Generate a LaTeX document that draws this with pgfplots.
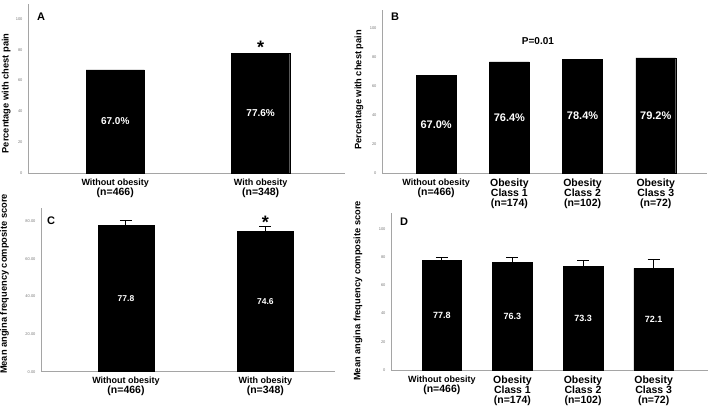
\documentclass[border=0pt]{standalone}
\usepackage{pgfplots}
\pgfplotsset{compat=1.18}
\usepackage{fontspec}
\setmainfont{Liberation Sans}
\definecolor{axgray}{RGB}{165,165,165}
\definecolor{tickgray}{RGB}{120,120,120}
\pgfplotsset{
  panel/.style={
    scale only axis,
    axis x line=bottom, axis y line=left,
    axis line style={axgray, line width=0.8pt, -},
    ymin=0,
    xtick=data,
    major tick length=0pt,
    /pgf/number format/assume math mode=true,
    yticklabel style={font=\fontsize{4}{5}\selectfont, text=tickgray, xshift=-2pt},
    xticklabel style={font=\bfseries\fontsize{10.5}{10.2}\selectfont, align=center, anchor=north, yshift=-2pt},
    ylabel style={font=\bfseries\fontsize{9.3}{11}\selectfont, anchor=center},
    ybar,
    clip=false,
  },
  errs/.style={error bars/.cd, y dir=plus, y explicit,
    error bar style={line width=1pt, black},
    error mark options={rotate=90, mark size=6pt, line width=1pt, black}},
}
\tikzset{
  lbl/.style={font=\bfseries\fontsize{11}{12}\selectfont, anchor=center},
  val/.style={font=\bfseries\fontsize{#1}{12}\selectfont, text=white, anchor=center},
}
\begin{document}
\begin{tikzpicture}
\useasboundingbox (0,0) rectangle (709pt,406pt);
% Panel A
\begin{axis}[panel, at={(28pt,233pt)}, anchor=south west,
  width=317pt, height=169.4pt, ymax=110, xmin=-0.6, xmax=1.58,
  ytick={0,20,40,60,80,100}, bar width=0.4,
  xticklabels={{{\fontsize{9}{10}\selectfont Without obesity}\\(n=466)},{{\fontsize{9}{10}\selectfont With obesity}\\(n=348)}},
  ylabel={Percentage with chest pain},
  ylabel style={at={(axis description cs:-0.069,0.47)}}]
\addplot[fill=black, draw=black] coordinates {(0,67.0) (1,77.6)};
\node[val=10] at (axis cs:0,33.5) {67.0\%};
\node[val=10] at (axis cs:1,38.8) {77.6\%};
\node[font=\bfseries\fontsize{18}{18}\selectfont, anchor=base] at (axis cs:1,77.7) {*};
\node[lbl] at (rel axis cs:0.041,0.923) {A};
\end{axis}
% Panel B
\begin{axis}[panel, at={(382pt,233pt)}, anchor=south west,
  width=325pt, height=162.8pt, ymax=112, xmin=-0.74, xmax=3.7,
  ytick={0,20,40,60,80,100}, bar width=0.545,
  xticklabels={{{\fontsize{9}{10}\selectfont Without obesity}\\(n=466)},{Obesity\\Class 1\\(n=174)},{Obesity\\Class 2\\(n=102)},{Obesity\\Class 3\\(n=72)}},
  ylabel={Percentage with chest pain},
  ylabel style={at={(axis description cs:-0.071,0.51)}}]
\addplot[fill=black, draw=black] coordinates {(0,67.0) (1,76.4) (2,78.4) (3,79.2)};
\node[val=11] at (axis cs:0,33.5) {67.0\%};
\node[val=11] at (axis cs:1,38.2) {76.4\%};
\node[val=11] at (axis cs:2,39.2) {78.4\%};
\node[val=11] at (axis cs:3,39.6) {79.2\%};
\node[font=\bfseries\fontsize{10}{12}\selectfont] at (axis cs:1.39,90.8) {P=0.01};
\node[lbl] at (rel axis cs:0.04,0.96) {B};
\end{axis}
% Panel C
\begin{axis}[panel, at={(41pt,34.3pt)}, anchor=south west,
  width=294pt, height=163.9pt, ymax=87, xmin=-0.61, xmax=1.5,
  ytick={0,20,40,60,80}, bar width=0.4,
  yticklabel={\pgfmathprintnumber[fixed, fixed zerofill, precision=2]{\tick}},
  xticklabels={{{\fontsize{9}{10}\selectfont Without obesity}\\(n=466)},{{\fontsize{9}{10}\selectfont With obesity}\\(n=348)}},
  ylabel={Mean angina frequency composite score},
  ylabel style={at={(axis description cs:-0.124,0.535)}}]
\addplot[fill=black, draw=black, errs] coordinates {(0,77.8) +- (0,2.3) (1,74.6) +- (0,2.7)};
\node[val=8.5] at (axis cs:0,38.9) {77.8};
\node[val=8.5] at (axis cs:1,37.3) {74.6};
\node[font=\bfseries\fontsize{18}{18}\selectfont, anchor=base] at (axis cs:1,76) {*};
\node[lbl] at (rel axis cs:0.034,0.92) {C};
\end{axis}
% Panel D
\begin{axis}[panel, at={(391pt,36pt)}, anchor=south west,
  width=317pt, height=156.5pt, ymax=111, xmin=-0.72, xmax=3.77,
  ytick={0,20,40,60,80,100}, bar width=0.56,
  xticklabels={{{\fontsize{9}{10}\selectfont Without obesity}\\(n=466)},{Obesity\\Class 1\\(n=174)},{Obesity\\Class 2\\(n=102)},{Obesity\\Class 3\\(n=72)}},
  ylabel={Mean angina frequency composite score},
  ylabel style={at={(axis description cs:-0.104,0.505)}}]
\addplot[fill=black, draw=black, errs] coordinates {(0,77.8) +- (0,2.3) (1,76.3) +- (0,3.3) (2,73.3) +- (0,4.7) (3,72.1) +- (0,6.1)};
\node[val=9] at (axis cs:0,38.9) {77.8};
\node[val=9] at (axis cs:1,38.2) {76.3};
\node[val=9] at (axis cs:2,36.7) {73.3};
\node[val=9] at (axis cs:3,36.1) {72.1};
\node[lbl] at (rel axis cs:0.041,0.95) {D};
\end{axis}
\end{tikzpicture}
\end{document}
